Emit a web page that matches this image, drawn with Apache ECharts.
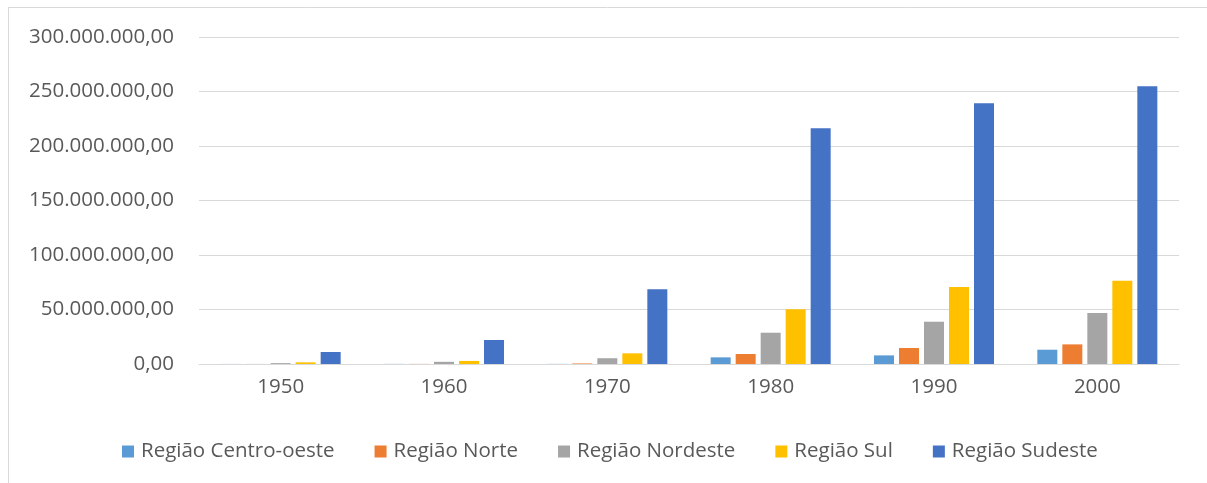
<!DOCTYPE html>
<html>
<head>
<meta charset="utf-8">
<script src="https://cdn.jsdelivr.net/npm/echarts@6/dist/echarts.min.js"></script>
<style>
  html, body { margin: 0; padding: 0; background: #fff; }
  #main { width: 1207px; height: 483px; }
</style>
</head>
<body>
<div id="main"></div>
<script>
var years = ['1950', '1960', '1970', '1980', '1990', '2000'];
var centroOeste = [50000, 100000, 100000, 6100000, 7900000, 13100000];
var norte = [50000, 100000, 500000, 9200000, 14700000, 18000000];
var nordeste = [800000, 2000000, 5300000, 28700000, 38800000, 46800000];
var sul = [1500000, 2800000, 9800000, 50200000, 70600000, 76400000];
var sudeste = [11000000, 22000000, 68600000, 216200000, 239200000, 254800000];

var fontName = "'Open Sans', 'Noto Sans', sans-serif";

function fmtBR(v) {
    // 300000000 -> 300.000.000,00
    var s = Math.round(v).toString().replace(/\B(?=(\d{3})+(?!\d))/g, '.');
    return s + ',00';
}

function barSeries(name, data, color) {
    return {
        name: name,
        type: 'bar',
        data: data,
        barWidth: 20,
        barGap: '25%',
        itemStyle: { color: color }
    };
}

var chart = echarts.init(document.getElementById('main'));
var option = {
    animation: false,
    textStyle: { fontFamily: fontName },
    grid: { left: 199, right: 28, top: 37, bottom: 119, containLabel: false },
    legend: {
        top: 441,
        left: 122,
        padding: 0,
        itemWidth: 12,
        itemHeight: 12,
        itemGap: 40,
        icon: 'rect',
        textStyle: { color: '#595959', fontSize: 20.5, fontFamily: fontName, padding: [0, 0, 0, 2] },
        data: ['Região Centro-oeste', 'Região Norte', 'Região Nordeste', 'Região Sul', 'Região Sudeste']
    },
    xAxis: {
        type: 'category',
        data: years,
        axisTick: { show: false },
        axisLine: { lineStyle: { color: '#d9d9d9', width: 1 } },
        axisLabel: { color: '#595959', fontSize: 20.5, margin: 13, fontFamily: fontName }
    },
    yAxis: {
        type: 'value',
        min: 0,
        max: 300000000,
        interval: 50000000,
        axisLine: { show: false },
        axisTick: { show: false },
        splitLine: { lineStyle: { color: '#d9d9d9', width: 1 } },
        axisLabel: {
            color: '#595959', fontSize: 20.5, margin: 25, fontFamily: fontName,
            formatter: fmtBR
        }
    },
    graphic: [
        { type: 'line', shape: { x1: 8.5, y1: 7, x2: 8.5, y2: 483 }, style: { stroke: '#d9d9d9', lineWidth: 1 } },
        { type: 'line', shape: { x1: 8, y1: 7.5, x2: 1207, y2: 7.5 }, style: { stroke: '#d9d9d9', lineWidth: 1 } }
    ],
    series: [
        barSeries('Região Centro-oeste', centroOeste, '#5B9BD5'),
        barSeries('Região Norte', norte, '#ED7D31'),
        barSeries('Região Nordeste', nordeste, '#A5A5A5'),
        barSeries('Região Sul', sul, '#FFC000'),
        barSeries('Região Sudeste', sudeste, '#4472C4')
    ]
};
chart.setOption(option);
</script>
</body>
</html>
